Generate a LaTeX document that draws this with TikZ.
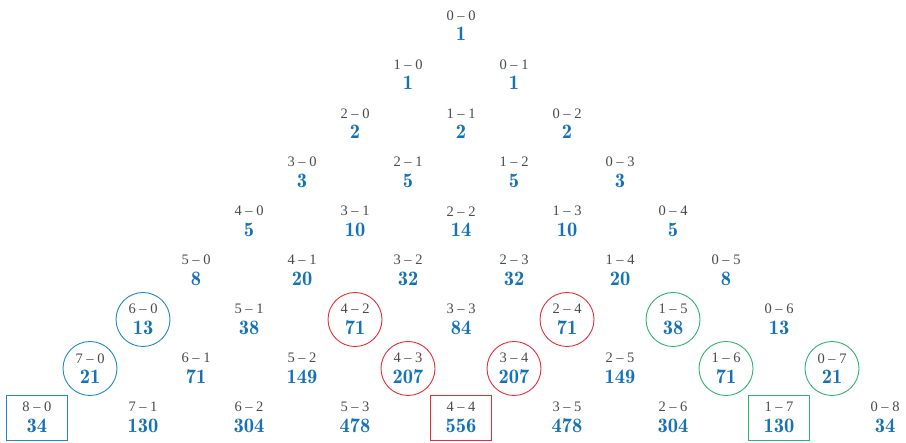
\documentclass[tikz,border=0pt]{standalone}
\usepackage{fontspec}
\setmainfont{Liberation Serif}
\usepackage{tikz}

\definecolor{numblue}{HTML}{1572B6}
\definecolor{lblgray}{HTML}{4A4A4A}
\definecolor{ringblue}{HTML}{1E88CF}
\definecolor{ringred}{HTML}{E62E36}
\definecolor{ringgreen}{HTML}{2DB36F}

\newcommand{\scorelbl}[3]{{\color{lblgray}#1 -- #2}\\{\fontfamily{lmr}\fontsize{20.5}{20.5}\selectfont\bfseries\color{numblue}#3}}

\begin{document}
\begin{tikzpicture}[
    x=1pt, y=-1pt,
    score/.style={
        align=center, inner sep=0pt,
        font=\fontsize{14.5}{20.5}\selectfont
    },
    ring/.style={
        draw=#1, circle, minimum size=54pt,
        line width=0.9pt
    },
    frame/.style={
        draw=#1, rectangle, minimum width=61pt, minimum height=45pt,
        line width=0.9pt
    },
    % highlighted results
    hl60/.style={ring=ringblue},
    hl70/.style={ring=ringblue},
    hl80/.style={frame=ringblue},
    hl42/.style={ring=ringred},
    hl24/.style={ring=ringred},
    hl43/.style={ring=ringred},
    hl34/.style={ring=ringred},
    hl44/.style={frame=ringred},
    hl15/.style={ring=ringgreen},
    hl16/.style={ring=ringgreen},
    hl07/.style={ring=ringgreen},
    hl17/.style={frame=ringgreen}
]

\useasboundingbox (0,0) rectangle (906,443);

\foreach \row/\vals in {
    0/{1},
    1/{1,1},
    2/{2,2,2},
    3/{3,5,5,3},
    4/{5,10,14,10,5},
    5/{8,20,32,32,20,8},
    6/{13,38,71,84,71,38,13},
    7/{21,71,149,207,207,149,71,21},
    8/{34,130,304,478,556,478,304,130,34}}{
  \foreach \v [count=\k from 0] in \vals {
    \pgfmathtruncatemacro\a{\row-\k}
    \node[score, hl\a\k/.try] (s\a\k)
        at ({461+53*(2*\k-\row)}, {25.5+49*\row}) {\scorelbl{\a}{\k}{\v}};
  }
}

\end{tikzpicture}
\end{document}
